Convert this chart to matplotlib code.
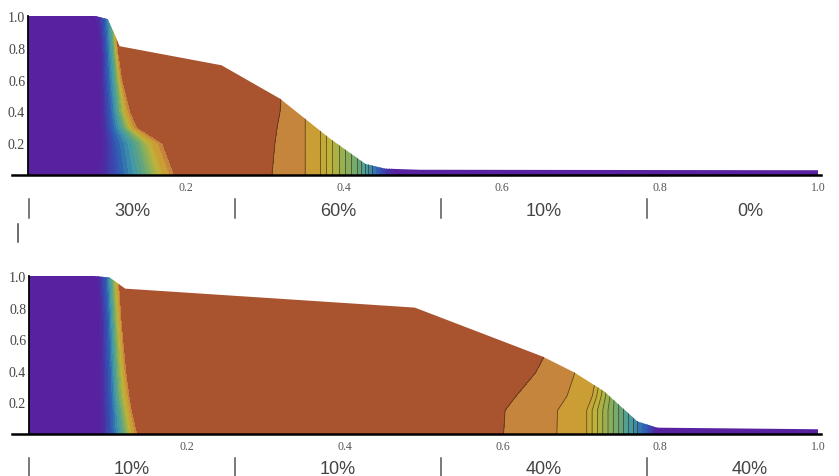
import numpy as np
import matplotlib
matplotlib.use("Agg")
import matplotlib.pyplot as plt
from matplotlib.colors import LinearSegmentedColormap
from matplotlib.patches import Polygon

W, H = 839, 477

# outline of the filled region in each panel
top_outline_x = [0.0, 0.085, 0.101, 0.116, 0.245, 0.319, 0.382, 0.427, 0.452, 0.496, 1.0]
top_outline_y = [1.0, 1.0, 0.98, 0.81, 0.69, 0.48, 0.23, 0.07, 0.04, 0.033, 0.03]
bot_outline_x = [0.0, 0.083, 0.102, 0.122, 0.489, 0.651, 0.691, 0.729, 0.771, 0.796, 0.9, 1.0]
bot_outline_y = [1.0, 1.0, 0.99, 0.92, 0.80, 0.49, 0.39, 0.27, 0.08, 0.04, 0.035, 0.03]

# contour positions, one row per height, s values in front_levels
front_levels = [0.0, 0.33, 0.55, 0.8, 0.88, 0.96, 1.0, 1.0, 0.96, 0.88, 0.8, 0.55, 0.33, 0.0]

top_heights = [0.0, 0.2, 0.3, 0.4, 0.6, 0.8, 1.0]
top_fronts = [
    [0.085, 0.118, 0.150, 0.172, 0.180, 0.186, 0.188, 0.304, 0.306, 0.351, 0.370, 0.418, 0.443, 0.465],
    [0.090, 0.113, 0.140, 0.158, 0.165, 0.171, 0.173, 0.308, 0.310, 0.351, 0.370, 0.418, 0.443, 0.465],
    [0.090, 0.107, 0.122, 0.131, 0.135, 0.139, 0.141, 0.311, 0.313, 0.351, 0.370, 0.418, 0.443, 0.465],
    [0.090, 0.105, 0.116, 0.124, 0.127, 0.130, 0.132, 0.315, 0.317, 0.351, 0.370, 0.418, 0.443, 0.465],
    [0.090, 0.102, 0.112, 0.117, 0.118, 0.120, 0.122, 0.318, 0.320, 0.351, 0.370, 0.418, 0.443, 0.465],
    [0.090, 0.100, 0.109, 0.112, 0.113, 0.114, 0.116, 0.318, 0.320, 0.351, 0.370, 0.418, 0.443, 0.465],
    [0.085, 0.098, 0.106, 0.109, 0.110, 0.112, 0.114, 0.318, 0.320, 0.351, 0.370, 0.418, 0.443, 0.465],
]

bot_heights = [0.0, 0.15, 0.24, 0.39, 0.5, 0.7, 1.0]
bot_fronts = [
    [0.088, 0.106, 0.121, 0.131, 0.135, 0.138, 0.140, 0.595, 0.597, 0.669, 0.707, 0.749, 0.781, 0.800],
    [0.088, 0.105, 0.117, 0.126, 0.129, 0.131, 0.133, 0.597, 0.599, 0.670, 0.707, 0.749, 0.781, 0.800],
    [0.088, 0.104, 0.114, 0.123, 0.126, 0.128, 0.130, 0.611, 0.613, 0.682, 0.714, 0.749, 0.781, 0.800],
    [0.088, 0.103, 0.112, 0.120, 0.122, 0.124, 0.126, 0.637, 0.639, 0.692, 0.720, 0.749, 0.781, 0.800],
    [0.088, 0.102, 0.111, 0.118, 0.120, 0.122, 0.124, 0.649, 0.651, 0.695, 0.722, 0.749, 0.781, 0.800],
    [0.088, 0.101, 0.109, 0.115, 0.117, 0.118, 0.120, 0.649, 0.651, 0.695, 0.722, 0.749, 0.781, 0.800],
    [0.085, 0.098, 0.106, 0.111, 0.113, 0.114, 0.116, 0.649, 0.651, 0.695, 0.722, 0.749, 0.781, 0.800],
]

x_ticks = [0.2, 0.4, 0.6, 0.8, 1.0]
y_ticks = [0.2, 0.4, 0.6, 0.8, 1.0]
top_shares = ["30%", "60%", "10%", "0%"]
bot_shares = ["10%", "10%", "40%", "40%"]

cmap = LinearSegmentedColormap.from_list("front", [
    (0.0, "#5a1f9e"), (0.14, "#4b2ea4"), (0.33, "#2f5db4"), (0.45, "#3f98a8"),
    (0.6, "#7dae63"), (0.74, "#bdb23a"), (0.84, "#cb9f35"), (0.92, "#c5843d"),
    (0.975, "#a9532f"), (1.0, "#a9532f"),
])
levels = list(np.arange(0.0, 0.8, 0.04)) + [0.8, 0.88, 0.955, 1.01]


def make_field(xx, heights, fronts, yy):
    fronts = np.array(fronts)
    zz = np.zeros((len(yy), len(xx)))
    for i, y in enumerate(yy):
        row = [np.interp(y, heights, fronts[:, j]) for j in range(fronts.shape[1])]
        zz[i] = np.interp(xx, row, front_levels)
    return zz


def draw_panel(px_x0, px_x_scale, px_base, px_y_scale, out_x, out_y, heights, fronts, shares, px_label):
    # axes span is picked so data units land on the reference pixels
    left, right = 12, 821
    bottom, top = px_base, px_base - 1.04 * px_y_scale
    ax = fig.add_axes([left / W, 1 - bottom / H, (right - left) / W, (bottom - top) / H])
    ax.set_xlim((left - px_x0) / px_x_scale, (right - px_x0) / px_x_scale)
    ax.set_ylim(0, 1.04)
    ax.patch.set_visible(False)

    xx = np.linspace(0, 1, 1600)
    yy = np.linspace(0, 1, 240)
    zz = make_field(xx, heights, fronts, yy)

    clip = Polygon(list(zip(out_x, out_y)) + [(1.0, 0), (0, 0)], transform=ax.transData, fc="none", ec="none")
    ax.add_patch(clip)
    cs = ax.contourf(xx, yy, zz, levels=levels, cmap=cmap, vmin=0, vmax=1)
    cs.set_clip_path(clip)
    # the thin contour lines only show on the right hand front
    right_side = np.ma.masked_where(np.tile(xx, (len(yy), 1)) < 0.25, zz)
    cl = ax.contour(xx, yy, right_side, levels=levels[10:-1], colors="#3a2a10", linewidths=0.6, alpha=0.7)
    cl.set_clip_path(clip)

    for s in ["top", "right"]:
        ax.spines[s].set_visible(False)
    ax.spines["left"].set_position(("data", 0))
    ax.spines["left"].set_bounds(0, 1)
    ax.spines["left"].set_linewidth(1.3)
    ax.spines["bottom"].set_linewidth(1.8)
    ax.set_xticks(x_ticks, [f"{v:.1f}" for v in x_ticks])
    ax.set_yticks(y_ticks, [f"{v:.1f}" for v in y_ticks])
    ax.tick_params(axis="x", length=0, pad=4, labelsize=8.5, labelcolor="#555555")
    ax.tick_params(axis="y", length=0, pad=2, labelsize=10, labelcolor="#444444")
    for lab in ax.get_xticklabels() + ax.get_yticklabels():
        lab.set_family("Liberation Serif")

    # share row below the axis
    for px, pct in zip(mark_px, shares):
        fig.add_artist(plt.Line2D([px / W] * 2, [1 - (px_label - 9) / H, 1 - (px_label + 10) / H],
                                  color="#555555", lw=1.1))
        fig.text((px + 103) / W, 1 - (px_label + 2) / H, pct,
                 family="Liberation Sans", fontsize=13, color="#444444", ha="center", va="center")
    return ax


fig = plt.figure(figsize=(W / 100, H / 100), dpi=100)
mark_px = [29, 235, 441, 647]
draw_panel(28, 790, 176, 159, top_outline_x, top_outline_y, top_heights, top_fronts, top_shares, 209)
draw_panel(29, 789, 435, 158, bot_outline_x, bot_outline_y, bot_heights, bot_fronts, bot_shares, 468)
fig.add_artist(plt.Line2D([18 / W, 18 / W], [1 - 225 / H, 1 - 243 / H], color="#444444", lw=1.1))

fig.savefig("out.png", dpi=100)
